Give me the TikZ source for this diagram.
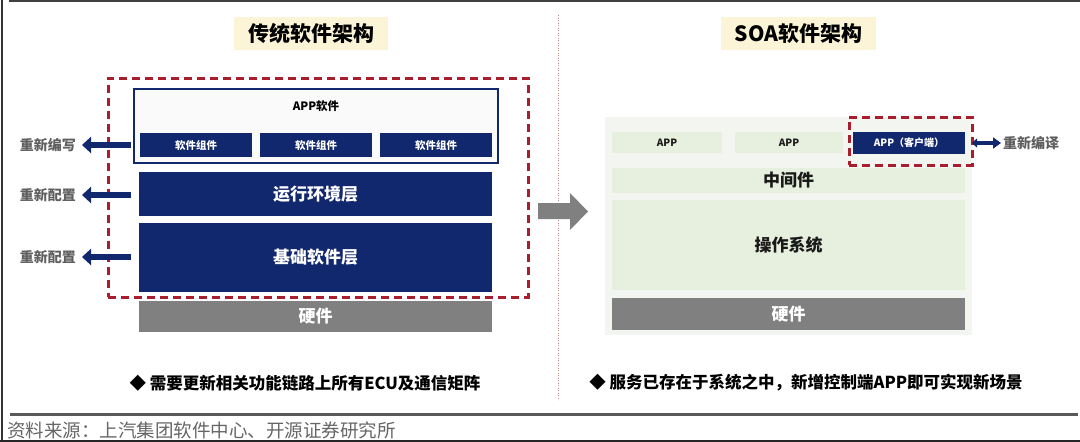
\documentclass[tikz,border=0pt]{standalone}
\usepackage{fontspec}
\setmainfont{Noto Sans CJK SC}
\usetikzlibrary{arrows.meta}
\definecolor{navy}{RGB}{18,40,110}
\definecolor{dred}{RGB}{168,30,45}
\definecolor{hwgray}{RGB}{128,128,128}
\definecolor{lgreen}{RGB}{231,240,222}
\definecolor{panel}{RGB}{243,245,240}
\definecolor{titlebg}{RGB}{252,244,214}
\definecolor{lblgray}{RGB}{95,95,95}
\definecolor{sepcol}{RGB}{185,140,140}
\begin{document}
\begin{tikzpicture}[x=1pt,y=-1pt,
  box/.style={anchor=north west,inner sep=0pt,outer sep=0pt},
  navybox/.style={box,fill=navy,text=white,font=\bfseries},
  greenbox/.style={box,fill=lgreen,text=black!90,font=\bfseries},
  hwbox/.style={box,fill=hwgray,text=white,font=\bfseries\fontsize{17}{17}\selectfont},
  reddash/.style={draw=dred,line width=3pt,dash pattern=on 8pt off 5pt},
  titlebox/.style={fill=titlebg,inner sep=0pt,minimum height=33pt,font=\bfseries\fontsize{21}{21}\selectfont},
  lbl/.style={text=lblgray,font=\bfseries\fontsize{14}{14}\selectfont,inner sep=0pt},
  redo/.style={navy,line width=6pt,-{Triangle[width=16pt,length=9pt]}},
  bullet/.style={font=\bfseries\fontsize{16.5}{16.5}\selectfont,inner sep=0pt}
]
\useasboundingbox (0,0) rectangle (1080,442);
\fill[white] (0,0) rectangle (1080,442);
% frame
\draw[black!80,line width=2pt] (1.5,0) -- (1.5,442);
\draw[black!75,line width=2pt] (9,1) -- (1080,1);
\draw[black!85,line width=2pt] (0,441) -- (1080,441);
\draw[black!65,line width=3pt] (10,414) -- (1078,414);
% separator
\draw[sepcol,line width=0.9pt,dash pattern=on 1.2pt off 1.3pt] (558,15) -- (558,400);

% ===== left =====
\node[titlebox,minimum width=154pt] (t1) at (311,33.5) {传统软件架构};
\node[box,draw=navy,line width=1.5pt,fill=black!2,minimum width=364pt,minimum height=74pt] (app) at (134,89) {};
\node[font=\bfseries\fontsize{11.5}{11.5}\selectfont,inner sep=0pt] (apptxt) at (316,106) {APP软件};
\node[navybox,minimum width=112pt,minimum height=24pt,font=\bfseries\fontsize{10.5}{10.5}\selectfont] (c1) at (140,133) {软件组件};
\node[navybox,minimum width=112pt,minimum height=24pt,font=\bfseries\fontsize{10.5}{10.5}\selectfont] (c2) at (260,133) {软件组件};
\node[navybox,minimum width=112pt,minimum height=24pt,font=\bfseries\fontsize{10.5}{10.5}\selectfont] (c3) at (380,133) {软件组件};
\node[navybox,minimum width=353pt,minimum height=44pt,font=\bfseries\fontsize{17}{17}\selectfont] (rte) at (139,172) {运行环境层};
\node[navybox,minimum width=353pt,minimum height=69pt,font=\bfseries\fontsize{17}{17}\selectfont] (bsw) at (139,223) {基础软件层};
\node[hwbox,minimum width=353pt,minimum height=31pt] (hw1) at (139,301) {硬件};
\node[box,reddash,minimum width=420pt,minimum height=219pt] (redL) at (108,78) {};

\node[lbl,anchor=east] (l1) at (76,145) {重新编写};
\node[lbl,anchor=east] (l2) at (76,195) {重新配置};
\node[lbl,anchor=east] (l3) at (76,257) {重新配置};
\coordinate (s1) at (131,145);
\coordinate (s2) at (131,195);
\coordinate (s3) at (131,257);
\draw[redo] (s1) -- ([xshift=6pt]l1.east);
\draw[redo] (s2) -- ([xshift=6pt]l2.east);
\draw[redo] (s3) -- ([xshift=6pt]l3.east);

% middle arrow
\fill[hwgray] (538,203) -- (570,203) -- (570,193) -- (588,211.5) -- (570,230) -- (570,219) -- (538,219) -- cycle;

% ===== right =====
\node[titlebox,minimum width=155pt] (t2) at (798.5,33.5) {SOA软件架构};
\node[box,fill=panel,minimum width=367pt,minimum height=218pt] (pan) at (605,117) {};
\node[greenbox,minimum width=110pt,minimum height=21pt,font=\bfseries\fontsize{10}{10}\selectfont] (a1) at (612,132) {APP};
\node[greenbox,minimum width=108pt,minimum height=21pt,font=\bfseries\fontsize{10}{10}\selectfont] (a2) at (735,132) {APP};
\node[navybox,minimum width=112pt,minimum height=22pt,font=\bfseries\fontsize{10}{10}\selectfont] (ac) at (853,132) {APP（客户端）};
\node[greenbox,minimum width=353pt,minimum height=25pt,font=\bfseries\fontsize{17}{17}\selectfont] (mid) at (612,168) {中间件};
\node[greenbox,minimum width=353pt,minimum height=90pt,font=\bfseries\fontsize{17}{17}\selectfont] (os) at (612,200) {操作系统};
\node[hwbox,minimum width=353pt,minimum height=32pt] (hw2) at (612,298) {硬件};
\node[box,reddash,minimum width=123pt,minimum height=48pt] (redR) at (849,117) {};
\node[lbl,anchor=west] (l4) at (1003,143) {重新编译};
\draw[navy,line width=3.5pt,{Triangle[width=9pt,length=5pt]}-{Triangle[width=11pt,length=8pt]}] (redR.east |- l4.west) -- ([xshift=-2pt]l4.west);

% bottom texts
\node[bullet] (b1) at (305,383) {◆ 需要更新相关功能链路上所有ECU及通信矩阵};
\node[bullet] (b2) at (806,383) {◆ 服务已存在于系统之中，新增控制端APP即可实现新场景};
\node[anchor=west,inner sep=0pt,text=black!60,font=\fontsize{18.5}{18.5}\selectfont] (src) at (7,430) {资料来源：上汽集团软件中心、开源证券研究所};
\end{tikzpicture}
\end{document}
